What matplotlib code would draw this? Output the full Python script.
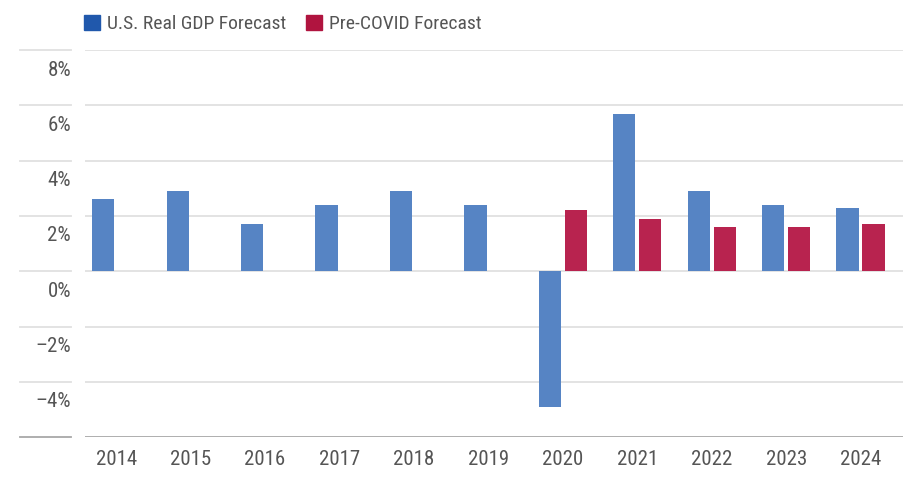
import matplotlib
matplotlib.use("Agg")
import matplotlib.pyplot as plt
from matplotlib import font_manager
from matplotlib.patches import Patch
from matplotlib.transforms import ScaledTranslation, blended_transform_factory
import numpy as np

# the reference uses a condensed face; take the first narrow family that exists
installed = {f.name for f in font_manager.fontManager.ttflist}
narrow = [n for n in ["Roboto Condensed", "Liberation Sans Narrow", "Open Sans Condensed",
                      "Noto Sans Condensed", "DejaVu Sans Condensed"] if n in installed]
plt.rcParams['font.family'] = narrow[:1] + ['DejaVu Sans']
if not narrow:
    plt.rcParams['font.stretch'] = 'condensed'

# data
years = ["2014", "2015", "2016", "2017", "2018", "2019", "2020", "2021", "2022", "2023", "2024"]
gdp_forecast = [2.6, 2.9, 1.7, 2.4, 2.9, 2.4, -4.9, 5.7, 2.9, 2.4, 2.3]
pre_covid = [None, None, None, None, None, None, 2.2, 1.9, 1.6, 1.6, 1.7]
y_ticks = [-6, -4, -2, 0, 2, 4, 6, 8]

BLUE = "#5684c4"
RED = "#b8234f"
BLUE_LEG = "#2058ac"
RED_LEG = "#b0143f"
GRID = "#e0e0e0"
AXIS = "#a8a8a8"
TEXT = "#555555"

fig = plt.figure(figsize=(9.1, 4.78), dpi=100)
ax = fig.add_axes([85 / 910, 1 - 437.3 / 478, 818 / 910, 387.3 / 478])

x = np.arange(len(years))
width = 0.30
off = 0.175

ax.bar(x - off, gdp_forecast, width, color=BLUE, zorder=3)
red_x = [xi + off for xi, v in zip(x, pre_covid) if v is not None]
red_v = [v for v in pre_covid if v is not None]
ax.bar(red_x, red_v, width, color=RED, zorder=3)

ax.set_xlim(-0.42, 10.57)
ax.set_ylim(-6, 8)

# gridlines, plus the short stubs behind the y labels
stub = blended_transform_factory(fig.transFigure, ax.transData)
for t in y_ticks:
    col = AXIS if t == -6 else GRID
    ax.axhline(t, color=col, lw=1.3, zorder=1)
    ax.plot([20 / 910, 71 / 910], [t, t], color=col, lw=1.3,
            transform=stub, clip_on=False)

for s in ax.spines.values():
    s.set_visible(False)

ax.set_yticks(y_ticks[1:])
ax.set_yticklabels([f"{t}%".replace("-", "\u2013") for t in y_ticks[1:]])
ax.tick_params(axis='y', length=0, pad=10, labelsize=15, labelcolor=TEXT)
# labels sit just under their gridline
for lab in ax.get_yticklabels():
    lab.set_transform(lab.get_transform() + ScaledTranslation(0, -0.18, fig.dpi_scale_trans))

ax.set_xticks(x)
ax.set_xticklabels(years)
ax.tick_params(axis='x', length=0, pad=9, labelsize=15, labelcolor=TEXT)

handles = [Patch(color=BLUE_LEG, label="U.S. Real GDP Forecast"),
           Patch(color=RED_LEG, label="Pre-COVID Forecast")]
fig.legend(handles=handles, loc='upper left', bbox_to_anchor=(66 / 910, 1.006),
           ncol=2, frameon=False, fontsize=14, labelcolor=TEXT,
           handlelength=0.85, handleheight=0.85, handletextpad=0.35, columnspacing=1.0)

fig.savefig("out.png", dpi=100, facecolor="white")
